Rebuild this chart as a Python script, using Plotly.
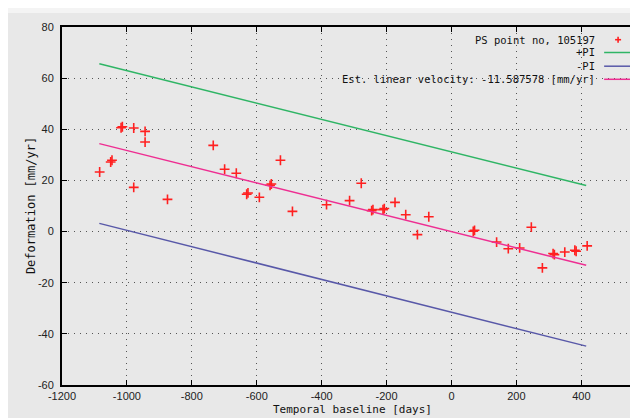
import plotly.graph_objects as go

# ---- data ----
ps_days = [-1084, -1050, -1046, -1018, -1014, -979, -944, -944, -979, -875,
           -734, -699, -663, -631, -627, -592, -559, -555, -527, -490,
           -385, -314, -278, -246, -242, -211, -207, -174, -141, -105,
           -70, 67, 71, 139, 175, 210, 246, 280, 313, 317, 349, 380, 384, 418]
ps_defo = [23.3, 27.2, 27.9, 40.6, 41.0, 40.5, 39.2, 35.0, 17.3, 12.6,
           33.7, 24.4, 22.8, 14.6, 15.1, 13.4, 18.1, 18.6, 27.9, 7.9,
           10.5, 12.1, 18.9, 8.2, 8.6, 8.6, 9.0, 11.4, 6.6, -1.2,
           5.8, 0.1, 0.5, -4.1, -6.7, -6.4, 1.7, -14.2, -8.6, -9.0, -8.0, -7.3, -7.7, -5.6]

fit_days = [-1085, 415]
est_line = [34.4, -13.2]
plus_pi = [65.6, 18.0]
minus_pi = [3.2, -44.8]

x_tick_vals = [-1200, -1000, -800, -600, -400, -200, 0, 200, 400]
x_tick_text = ["-1200", "-1000", "-800", "-600", "-400", "-200", "0", "200", "400"]
y_tick_vals = [-60, -40, -20, 0, 20, 40, 60, 80]
y_tick_text = ["-60", "-40", "-20", "0", "20", "40", "60", "80"]

legend_labels = ["PS point no, 105197", "+PI", "-PI",
                 "Est. linear velocity: -11.587578 [mm/yr]"]
x_title = "Temporal baseline [days]"
y_title = "Deformation [mm/yr]"

RED = "#ff2020"
GREEN = "#2fb565"
BLUE = "#5858a8"
PINK = "#ee2e92"
BG = "#e8e8e8"

# ---- layout geometry (pixels) ----
W, H = 638, 418
L, R, T, B = 54, 1, 19, 41
PW, PH = W - L - R, H - T - B


def px(xp):
    return (xp - L) / PW


def py(yp):
    return (H - B - yp) / PH


fig = go.Figure()
fig.add_trace(go.Scatter(x=ps_days, y=ps_defo, mode="markers",
                         marker=dict(symbol="cross-thin", size=7, color=RED,
                                     line=dict(color=RED, width=1.6)),
                         showlegend=False))
fig.add_trace(go.Scatter(x=fit_days, y=plus_pi, mode="lines",
                         line=dict(color=GREEN, width=1.5), showlegend=False))
fig.add_trace(go.Scatter(x=fit_days, y=minus_pi, mode="lines",
                         line=dict(color=BLUE, width=1.5), showlegend=False))
fig.add_trace(go.Scatter(x=fit_days, y=est_line, mode="lines",
                         line=dict(color=PINK, width=1.5), showlegend=False))

axis_common = dict(showline=True, linewidth=2, linecolor="black", mirror="allticks",
                   ticks="inside", ticklen=5, tickwidth=1, tickcolor="black",
                   showgrid=True, gridcolor="#555555", griddash="1px,5px", gridwidth=1,
                   zeroline=False,
                   tickfont=dict(family="Liberation Sans", size=11, color="#222222"))

fig.update_xaxes(range=[-1200, 590], tickvals=x_tick_vals, ticktext=x_tick_text, **axis_common)
fig.update_yaxes(range=[-60, 80], tickvals=y_tick_vals, ticktext=y_tick_text,
                 ticklabelstandoff=4, **axis_common)

annotations = []
shapes = []
mono = "DejaVu Sans Mono"
# legend
rows = [31.7, 44.5, 58.2, 71.3]
colors = [RED, GREEN, BLUE, PINK]
for i, (lab, yy) in enumerate(zip(legend_labels, rows)):
    annotations.append(dict(xref="paper", yref="paper", x=px(591), y=py(yy),
                            xanchor="right", yanchor="middle", showarrow=False,
                            text=lab, font=dict(family=mono, size=10.5, color="#111111")))
    if i == 0:
        shapes.append(dict(type="line", xref="paper", yref="paper",
                           x0=px(609), x1=px(615), y0=py(yy), y1=py(yy),
                           line=dict(color=RED, width=1.6)))
        shapes.append(dict(type="line", xref="paper", yref="paper",
                           x0=px(612), x1=px(612), y0=py(yy - 3), y1=py(yy + 3),
                           line=dict(color=RED, width=1.6)))
    else:
        shapes.append(dict(type="line", xref="paper", yref="paper",
                           x0=px(598), x1=px(627), y0=py(yy), y1=py(yy),
                           line=dict(color=colors[i], width=1.5)))

# top light strip
shapes.append(dict(type="rect", xref="paper", yref="paper", x0=-0.2, x1=1.2,
                   y0=py(5), y1=py(-2), fillcolor="#f4f4f4", line=dict(width=0),
                   layer="below"))

# cut-off 600 label at the right edge (as in the reference)
annotations.append(dict(xref="paper", yref="paper", x=px(640.7), y=py(391),
                        xanchor="center", yanchor="middle", showarrow=False,
                        text="600", font=dict(family="Liberation Sans", size=11, color="#222222")))
# axis titles
annotations.append(dict(xref="paper", yref="paper", x=0.5, y=py(409),
                        xanchor="center", yanchor="bottom", showarrow=False, borderpad=0,
                        text=x_title, font=dict(family=mono, size=11, color="#111111")))
annotations.append(dict(xref="paper", yref="paper", x=px(23), y=0.5,
                        xanchor="center", yanchor="middle", showarrow=False, textangle=-90,
                        text=y_title, font=dict(family=mono, size=12, color="#111111")))

fig.update_layout(width=W, height=H, margin=dict(l=L, r=R, t=T, b=B),
                  paper_bgcolor=BG, plot_bgcolor=BG, showlegend=False,
                  annotations=annotations, shapes=shapes)

fig.write_html("out.html")
